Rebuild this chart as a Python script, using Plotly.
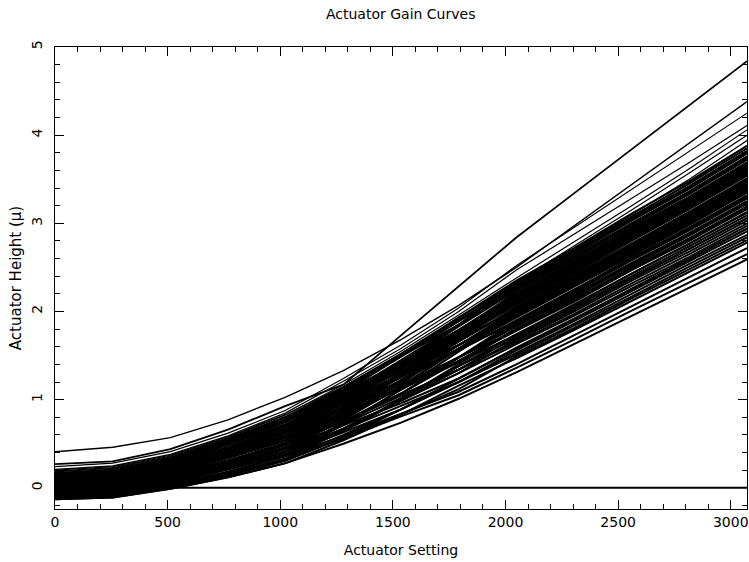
import plotly.graph_objects as go

# Actuator settings (DAC counts)
settings = [0, 256, 512, 768, 1024, 1280, 1536, 1792, 2048, 2304, 2560, 2816, 3072]

# Main band of actuator gain curves (height in microns)
band_curves = [
    [-0.13,-0.11,-0.01,0.12,0.28,0.50,0.74,1.01,1.31,1.63,1.95,2.27,2.59],
    [-0.10,-0.08,0.02,0.16,0.33,0.56,0.81,1.05,1.36,1.68,2.01,2.33,2.65],
    [-0.12,-0.10,0.01,0.14,0.31,0.57,0.83,1.16,1.47,1.79,2.12,2.45,2.78],
    [-0.09,-0.06,0.04,0.18,0.36,0.59,0.84,1.09,1.40,1.73,2.06,2.39,2.72],
    [-0.07,-0.05,0.06,0.21,0.38,0.63,0.89,1.20,1.51,1.84,2.17,2.51,2.84],
    [-0.06,-0.03,0.08,0.23,0.41,0.67,0.99,1.30,1.63,1.95,2.29,2.62,2.97],
    [-0.10,-0.08,0.02,0.16,0.33,0.60,0.89,1.20,1.56,1.89,2.23,2.57,2.91],
    [-0.04,-0.02,0.09,0.25,0.44,0.66,0.93,1.20,1.53,1.86,2.20,2.54,2.87],
    [-0.01,0.01,0.13,0.29,0.49,0.75,1.05,1.34,1.67,2.00,2.35,2.68,3.03],
    [-0.09,-0.06,0.04,0.18,0.36,0.64,0.99,1.34,1.72,2.05,2.40,2.74,3.09],
    [-0.03,0.00,0.11,0.27,0.46,0.76,1.07,1.44,1.78,2.11,2.47,2.80,3.16],
    [0.00,0.03,0.14,0.31,0.51,0.75,1.05,1.34,1.65,1.97,2.32,2.65,3.00],
    [0.02,0.05,0.16,0.34,0.54,0.82,1.14,1.48,1.83,2.17,2.52,2.86,3.22],
    [-0.06,-0.03,0.08,0.23,0.41,0.73,1.07,1.48,1.88,2.22,2.58,2.92,3.28],
    [0.04,0.08,0.19,0.38,0.59,0.84,1.12,1.42,1.74,2.07,2.43,2.77,3.12],
    [0.03,0.06,0.18,0.36,0.57,0.86,1.22,1.58,1.93,2.28,2.63,2.98,3.35],
    [0.06,0.09,0.21,0.40,0.62,0.92,1.25,1.62,1.98,2.33,2.69,3.04,3.41],
    [-0.01,0.01,0.13,0.29,0.49,0.83,1.18,1.62,2.02,2.38,2.74,3.10,3.47],
    [0.07,0.11,0.23,0.42,0.64,0.91,1.21,1.56,1.90,2.24,2.61,2.95,3.31],
    [0.09,0.12,0.25,0.44,0.67,0.98,1.32,1.70,2.07,2.43,2.80,3.16,3.54],
    [-0.04,-0.02,0.09,0.25,0.44,0.81,1.20,1.68,2.14,2.49,2.86,3.21,3.60],
    [0.10,0.14,0.26,0.46,0.70,0.98,1.28,1.62,1.95,2.30,2.66,3.01,3.38],
    [0.12,0.15,0.28,0.49,0.72,1.04,1.40,1.79,2.18,2.54,2.92,3.27,3.66],
    [0.02,0.05,0.16,0.34,0.54,0.90,1.30,1.75,2.23,2.59,2.97,3.33,3.72],
    [0.13,0.17,0.30,0.51,0.75,1.04,1.40,1.75,2.16,2.51,2.89,3.24,3.63],
    [0.15,0.18,0.31,0.53,0.77,1.11,1.49,1.89,2.28,2.65,3.03,3.39,3.79],
    [0.04,0.08,0.19,0.38,0.59,0.97,1.39,1.85,2.33,2.70,3.08,3.45,3.85],
    [0.16,0.20,0.33,0.55,0.80,1.11,1.49,1.85,2.26,2.62,3.00,3.36,3.75],
    [-0.07,-0.05,0.06,0.21,0.38,0.67,0.99,1.30,1.69,2.02,2.38,2.71,3.06],
    [-0.03,0.00,0.11,0.27,0.46,0.71,0.96,1.24,1.58,1.91,2.26,2.60,2.94],
    [0.00,0.03,0.14,0.31,0.51,0.79,1.14,1.48,1.85,2.19,2.55,2.89,3.25],
    [0.03,0.06,0.18,0.36,0.57,0.85,1.14,1.44,1.80,2.13,2.50,2.83,3.19],
    [0.06,0.09,0.21,0.40,0.62,0.92,1.28,1.66,2.04,2.40,2.77,3.13,3.50],
    [0.09,0.12,0.25,0.44,0.67,0.98,1.28,1.62,2.00,2.35,2.72,3.07,3.44],
    [0.07,0.11,0.23,0.42,0.64,0.99,1.37,1.75,2.20,2.56,2.95,3.30,3.69],
    [0.10,0.14,0.26,0.46,0.70,1.05,1.45,1.85,2.30,2.67,3.06,3.42,3.82],
    [0.12,0.15,0.28,0.49,0.72,1.04,1.37,1.72,2.11,2.46,2.84,3.19,3.57],
    [0.13,0.17,0.30,0.51,0.75,1.11,1.49,1.93,2.35,2.72,3.11,3.48,3.88],
    [0.15,0.18,0.31,0.53,0.77,1.07,1.43,1.79,2.16,2.52,2.89,3.24,3.63],
    [0.16,0.20,0.33,0.55,0.80,1.14,1.52,1.93,2.31,2.68,3.05,3.42,3.82],
    [-0.12,-0.10,0.01,0.14,0.31,0.57,0.89,1.24,1.59,1.92,2.25,2.59,2.94],
    [-0.09,-0.06,0.04,0.18,0.36,0.67,0.99,1.38,1.74,2.08,2.43,2.77,3.13],
    [-0.06,-0.03,0.08,0.23,0.41,0.73,1.11,1.48,1.90,2.25,2.60,2.95,3.32],
    [-0.03,0.00,0.11,0.27,0.46,0.80,1.15,1.58,1.96,2.31,2.66,3.01,3.38],
    [0.00,0.03,0.14,0.31,0.51,0.86,1.22,1.66,2.05,2.41,2.77,3.13,3.51],
    [0.03,0.06,0.18,0.36,0.57,0.90,1.30,1.72,2.12,2.47,2.83,3.18,3.57],
    [0.06,0.09,0.21,0.40,0.62,0.96,1.37,1.79,2.21,2.57,2.94,3.30,3.69],
    [0.09,0.12,0.25,0.44,0.67,1.02,1.42,1.85,2.26,2.63,3.00,3.36,3.76],
    [-0.04,-0.02,0.09,0.25,0.44,0.72,1.02,1.38,1.70,2.03,2.37,2.71,3.06],
    [-0.01,0.01,0.13,0.29,0.49,0.79,1.14,1.48,1.86,2.20,2.55,2.89,3.25],
    [0.02,0.05,0.16,0.34,0.54,0.86,1.22,1.58,1.99,2.34,2.70,3.05,3.43],
    [0.04,0.08,0.19,0.38,0.59,0.93,1.30,1.68,2.10,2.45,2.82,3.17,3.56],
    [0.07,0.11,0.23,0.42,0.64,0.99,1.34,1.75,2.15,2.50,2.87,3.22,3.62],
    [0.10,0.14,0.26,0.46,0.70,1.04,1.40,1.83,2.24,2.60,2.98,3.34,3.74],
    [0.13,0.17,0.30,0.51,0.75,1.08,1.49,1.89,2.29,2.66,3.04,3.40,3.81],
    [-0.10,-0.08,0.02,0.16,0.33,0.65,1.01,1.40,1.81,2.15,2.49,2.83,3.19],
    [-0.07,-0.05,0.06,0.21,0.38,0.71,1.12,1.54,1.97,2.32,2.68,3.03,3.39],
    [-0.04,-0.02,0.09,0.25,0.44,0.77,1.15,1.58,2.00,2.36,2.71,3.07,3.44],
    [-0.01,0.01,0.13,0.29,0.49,0.84,1.27,1.72,2.19,2.55,2.93,3.28,3.68],
    [0.02,0.05,0.16,0.34,0.54,0.90,1.27,1.72,2.13,2.48,2.85,3.20,3.58],
    [0.04,0.08,0.19,0.38,0.59,0.89,1.22,1.58,1.94,2.29,2.64,2.99,3.37],
    [0.07,0.11,0.23,0.42,0.64,0.95,1.28,1.66,2.03,2.39,2.75,3.11,3.49],
    [0.10,0.14,0.26,0.46,0.70,1.01,1.37,1.75,2.17,2.53,2.90,3.25,3.65],
    [-0.13,-0.11,-0.01,0.12,0.28,0.54,0.83,1.12,1.49,1.81,2.15,2.48,2.81],
    [0.12,0.15,0.28,0.49,0.72,0.97,1.27,1.56,1.89,2.23,2.59,2.93,3.30],
    [0.15,0.18,0.31,0.53,0.77,1.06,1.35,1.70,2.01,2.37,2.73,3.09,3.45],
    [0.16,0.20,0.33,0.55,0.80,1.09,1.41,1.77,2.09,2.44,2.81,3.17,3.55],
    [0.03,0.06,0.18,0.36,0.57,0.85,1.14,1.48,1.84,2.18,2.53,2.87,3.24],
    [0.06,0.09,0.21,0.40,0.62,0.88,1.17,1.48,1.79,2.12,2.48,2.81,3.18],
    [0.09,0.12,0.25,0.44,0.67,1.01,1.37,1.79,2.17,2.53,2.91,3.26,3.64],
]

# Curves lying just above the main band
upper_curves = [
    [0.24,0.28,0.41,0.62,0.88,1.24,1.62,2.04,2.52,2.95,3.39,3.81,4.25],
    [0.21,0.25,0.38,0.59,0.85,1.21,1.58,2.00,2.47,2.88,3.29,3.69,4.11],
    [0.19,0.23,0.36,0.57,0.83,1.17,1.55,1.96,2.38,2.79,3.20,3.62,4.06],
    [0.20,0.24,0.37,0.58,0.83,1.15,1.52,1.93,2.34,2.74,3.15,3.57,4.00],
    [0.18,0.22,0.35,0.56,0.81,1.14,1.50,1.91,2.30,2.70,3.10,3.50,3.94],
    [0.17,0.21,0.34,0.55,0.80,1.13,1.49,1.90,2.28,2.67,3.06,3.46,3.88],
]

# Two outlying actuators
steep_curve = [0.27,0.30,0.44,0.66,0.93,1.17,1.73,2.28,2.84,3.34,3.84,4.34,4.84]
high_start_curve = [0.41,0.46,0.57,0.77,1.03,1.33,1.68,2.07,2.50,2.97,3.44,3.91,4.38]

# Dead actuators (no response)
dead_curve = [0.0,0.0,0.0,0.0,0.0,0.0,0.0,0.0,0.0,0.0,0.0,0.0,0.0]

x_ticks = [0, 500, 1000, 1500, 2000, 2500, 3000]
y_ticks = [0, 1, 2, 3, 4, 5]
x_range = [0, 3072]
y_range = [-0.24, 5.0]

fig = go.Figure()

def add_curve(vals, width=1.0):
    fig.add_trace(go.Scatter(x=settings, y=vals, mode="lines",
                             line=dict(color="black", width=width),
                             hoverinfo="skip", showlegend=False))

for c in band_curves:
    add_curve(c, 2.0)
for c in upper_curves:
    add_curve(c, 1.2)
add_curve(steep_curve, 1.8)
add_curve(high_start_curve, 1.4)
add_curve(dead_curve, 2.0)

font = "DejaVu Sans"
tick_font = dict(family=font, size=14, color="black")

def axis_style():
    return dict(
        showgrid=False, zeroline=False, showline=True, linecolor="black",
        linewidth=1, mirror=True, ticks="inside", tickcolor="black",
        tickwidth=1, ticklen=9, tickfont=tick_font, automargin=False,
    )

x_minor = dict(ticks="inside", ticklen=5, tickcolor="black", tickwidth=1, dtick=100, tick0=0)
y_minor = dict(ticks="inside", ticklen=5, tickcolor="black", tickwidth=1, dtick=0.2, tick0=0)

fig.update_layout(
    width=749, height=562,
    margin=dict(l=55, r=2, t=47, b=53, autoexpand=False),
    paper_bgcolor="white", plot_bgcolor="white",
    title=dict(text="Actuator Gain Curves", x=0.535, xref="container",
               y=1 - 14 / 562, yref="container", xanchor="center", yanchor="middle",
               automargin=False, font=dict(family=font, size=14, color="black")),
    xaxis=dict(range=x_range, tickvals=x_ticks,
               title=dict(text="Actuator Setting", standoff=16,
                          font=dict(family=font, size=14, color="black")),
               minor=x_minor, **axis_style()),
    yaxis=dict(range=y_range, tickvals=y_ticks, tickangle=-90,
               ticklabelstandoff=6,
               title=dict(text="Actuator Height (\u03bc)", standoff=4,
                          font=dict(family=font, size=15, color="black")),
               minor=y_minor, **axis_style()),
    # duplicate axes on top and right to carry the inward ticks of the frame
    xaxis2=dict(range=x_range, tickvals=x_ticks, overlaying="x", side="top",
                showticklabels=False, showgrid=False, zeroline=False,
                ticks="inside", ticklen=9, tickcolor="black", tickwidth=1,
                minor=x_minor, automargin=False),
    yaxis2=dict(range=y_range, tickvals=y_ticks, overlaying="y", side="right",
                showticklabels=False, showgrid=False, zeroline=False,
                ticks="inside", ticklen=9, tickcolor="black", tickwidth=1,
                minor=y_minor, automargin=False),
)

# an invisible trace so the top/right axes are drawn
fig.add_trace(go.Scatter(x=[x_range[0]], y=[y_range[0]], xaxis="x2", yaxis="y2",
                         mode="markers", marker=dict(opacity=0), hoverinfo="skip",
                         showlegend=False))

fig.write_html("out.html", config={"displayModeBar": False},
               post_script="document.body.style.margin='0';document.body.style.overflow='hidden';")
